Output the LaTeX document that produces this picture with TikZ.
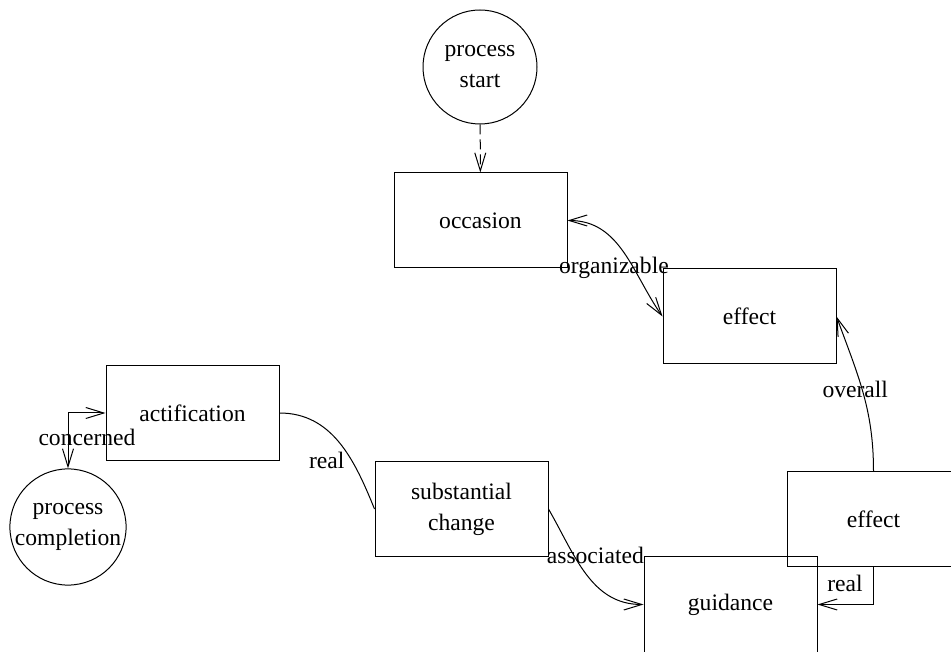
\documentclass[tikz,border=0pt]{standalone}
\usepackage{fontspec}
\setmainfont{Liberation Serif}
\usetikzlibrary{arrows.meta}
\begin{document}
\begin{tikzpicture}[x=1pt,y=1pt,line width=1pt,
  font=\fontsize{23.6}{31}\selectfont,
  box/.style={draw,rectangle,minimum width=173pt,minimum height=95pt,inner sep=0pt,align=center},
  term/.style={draw,circle,minimum size=114pt,inner sep=0pt,align=center},
  barb/.tip={Straight Barb[length=18pt,width=11pt]},
  tip/.style={-barb},
  both/.style={barb-barb},
  lbl/.style={inner sep=0pt}]
\useasboundingbox (0,0) rectangle (951,651);
\clip (0,0) rectangle (951,651);

\node[term] (start) at (480,584) {process\\start};
\node[box] (occasion) at (480.5,430.5) {occasion};
\node[box] (effectA) at (749.5,334.5) {effect};
\node[box] (effectB) at (873.5,132) {effect};
\node[box] (guidance) at (730.5,46.5) {guidance};
\node[box] (subst) at (461.5,142) {substantial\\change};
\node[box] (actif) at (192.5,238) {actification};
\node[term] (completion) at (68,124) {process\\completion};

\draw[tip,dash pattern=on 10pt off 5pt] (start) -- (occasion);
\draw[both] (occasion.east) to[out=0,in=125]
  node[lbl,pos=0.5,xshift=-9.5pt,yshift=-15.7pt] {organizable} (effectA.west);
\draw[tip] (effectB.north) to[out=90,in=-70]
  node[lbl,pos=0.5,xshift=-7.7pt,yshift=2.6pt] {overall} (effectA.east);
\draw[tip] (effectB.south) |-
  node[lbl,pos=0.5,xshift=-28.5pt,yshift=21.5pt] {real} (guidance.east);
\draw[tip] (subst.east) to[out=-60,in=180]
  node[lbl,pos=0.5,xshift=9.2pt,yshift=18.9pt] {associated} (guidance.west);
\draw (actif.east) to[out=0,in=112]
  node[lbl,pos=0.62,xshift=-22.6pt,yshift=-4pt] {real} (subst.west);
\draw[both] (actif.west) -|
  node[lbl,pos=0.75,xshift=19pt,yshift=3pt] {concerned} (completion.north);
\end{tikzpicture}
\end{document}
